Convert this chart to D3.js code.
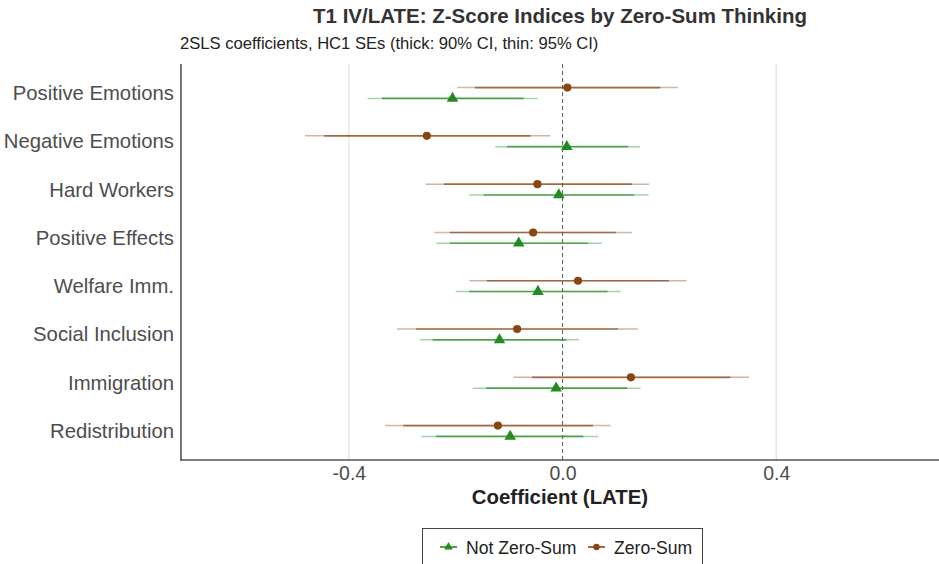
<!DOCTYPE html>
<html>
<head>
<meta charset="utf-8">
<script src="https://cdn.jsdelivr.net/npm/d3@7"></script>
<style>
  html, body { margin: 0; padding: 0; background: #fff; }
  svg { display: block; font-family: "Liberation Sans", Arial, Helvetica, sans-serif; }
</style>
</head>
<body>
<svg id="chart" width="939" height="564"></svg>
<script>
// Outcome indices, top to bottom
const categories = ["Positive Emotions", "Negative Emotions", "Hard Workers", "Positive Effects",
                    "Welfare Imm.", "Social Inclusion", "Immigration", "Redistribution"];

// Zero-Sum group: point estimates and confidence bounds
const zsEst  = [0.009, -0.254, -0.047, -0.055, 0.029, -0.085, 0.128, -0.121];
const zsLo95 = [-0.197, -0.482, -0.256, -0.240, -0.174, -0.310, -0.092, -0.332];
const zsHi95 = [0.216, -0.023, 0.162, 0.130, 0.232, 0.141, 0.349, 0.090];
const zsLo90 = [-0.164, -0.446, -0.222, -0.211, -0.142, -0.274, -0.057, -0.298];
const zsHi90 = [0.183, -0.060, 0.130, 0.100, 0.199, 0.104, 0.314, 0.057];

// Not Zero-Sum group
const nzEst  = [-0.206, 0.008, -0.007, -0.082, -0.046, -0.118, -0.012, -0.098];
const nzLo95 = [-0.365, -0.126, -0.175, -0.236, -0.200, -0.267, -0.168, -0.264];
const nzHi95 = [-0.046, 0.145, 0.161, 0.073, 0.109, 0.031, 0.146, 0.067];
const nzLo90 = [-0.338, -0.104, -0.148, -0.211, -0.175, -0.243, -0.143, -0.237];
const nzHi90 = [-0.073, 0.123, 0.134, 0.048, 0.084, 0.007, 0.121, 0.039];

const xTicks = [-0.4, 0, 0.4];
const seriesNames = ["Not Zero-Sum", "Zero-Sum"];

const colors = { "Zero-Sum": "#8B4513", "Not Zero-Sum": "#228B22" };

const series = [
  { name: "Zero-Sum", est: zsEst, lo95: zsLo95, hi95: zsHi95, lo90: zsLo90, hi90: zsHi90, dy: -5.4, shape: d3.symbolCircle },
  { name: "Not Zero-Sum", est: nzEst, lo95: nzLo95, hi95: nzHi95, lo90: nzLo90, hi90: nzHi90, dy: 5.4, shape: d3.symbolTriangle }
];

const FONT = "Liberation Sans, Arial, Helvetica, sans-serif";
const svg = d3.select("#chart");
const panel = { left: 181, right: 939, top: 64, bottom: 460 };

const x = d3.scaleLinear().domain([-0.7142, 0.7047]).range([panel.left, panel.right]);
const step = (panel.bottom - panel.top) / (categories.length - 1 + 1.2);
const y = d3.scalePoint().domain(categories)
  .range([panel.top + 0.6 * step, panel.bottom - 0.6 * step]);

// Vertical grid lines
svg.append("g").selectAll("line").data(xTicks.filter(t => t !== 0)).join("line")
  .attr("x1", d => x(d)).attr("x2", d => x(d))
  .attr("y1", panel.top).attr("y2", panel.bottom)
  .attr("stroke", "#dedede").attr("stroke-width", 1.1);

// Reference line at zero
svg.append("line")
  .attr("x1", x(0)).attr("x2", x(0))
  .attr("y1", panel.top).attr("y2", panel.bottom)
  .attr("stroke", "#666").attr("stroke-width", 1.1)
  .attr("stroke-dasharray", "4,3");

// Interval bars and point estimates
series.forEach(s => {
  const g = svg.append("g");
  const col = colors[s.name];
  const idx = d3.range(categories.length);
  g.selectAll("line.ci95").data(idx).join("line")
    .attr("class", "ci95")
    .attr("x1", i => x(s.lo95[i])).attr("x2", i => x(s.hi95[i]))
    .attr("y1", i => y(categories[i]) + s.dy).attr("y2", i => y(categories[i]) + s.dy)
    .attr("stroke", col).attr("stroke-opacity", 0.4).attr("stroke-width", 1.5);
  g.selectAll("line.ci90").data(idx).join("line")
    .attr("class", "ci90")
    .attr("x1", i => x(s.lo90[i])).attr("x2", i => x(s.hi90[i]))
    .attr("y1", i => y(categories[i]) + s.dy).attr("y2", i => y(categories[i]) + s.dy)
    .attr("stroke", col).attr("stroke-opacity", 0.68).attr("stroke-width", 1.6);
  g.selectAll("path").data(idx).join("path")
    .attr("transform", i => `translate(${x(s.est[i])},${y(categories[i]) + s.dy})`)
    .attr("d", d3.symbol().type(s.shape).size(s.shape === d3.symbolCircle ? 52 : 58))
    .attr("fill", col);
});

// Axis lines
svg.append("line")
  .attr("x1", panel.left).attr("x2", panel.left)
  .attr("y1", panel.top).attr("y2", panel.bottom + 0.8)
  .attr("stroke", "#555").attr("stroke-width", 1.6);
svg.append("line")
  .attr("x1", panel.left - 0.8).attr("x2", panel.right)
  .attr("y1", panel.bottom).attr("y2", panel.bottom)
  .attr("stroke", "#555").attr("stroke-width", 1.6);

// Category labels
const yAxis = d3.axisLeft(y).tickSize(0).tickPadding(7);
const yg = svg.append("g").attr("transform", `translate(${panel.left},0)`).call(yAxis);
yg.select(".domain").remove();
yg.selectAll("text").attr("fill", "#4d4d4d").attr("font-size", 20.3)
  .attr("font-family", FONT);

// Coefficient tick labels
const xAxis = d3.axisBottom(x).tickValues(xTicks).tickFormat(d3.format(".1f")).tickSize(0).tickPadding(6);
const xg = svg.append("g").attr("transform", `translate(0,${panel.bottom})`).call(xAxis);
xg.select(".domain").remove();
xg.selectAll("text").attr("fill", "#4d4d4d").attr("font-size", 19.5)
  .attr("font-family", FONT)
  .text(d => d === 0 ? "0.0" : d3.format(".1f")(d).replace("−", "-"));

const midX = (panel.left + panel.right) / 2;

// Axis title
svg.append("text")
  .attr("x", midX).attr("y", 504)
  .attr("text-anchor", "middle").attr("font-size", 20.4).attr("font-weight", "bold")
  .attr("fill", "#222").text("Coefficient (LATE)");

// Title and subtitle
svg.append("text")
  .attr("x", midX).attr("y", 23)
  .attr("text-anchor", "middle").attr("font-size", 20.5).attr("font-weight", "bold")
  .attr("fill", "#333").text("T1 IV/LATE: Z-Score Indices by Zero-Sum Thinking");
svg.append("text")
  .attr("x", panel.left - 1).attr("y", 49)
  .attr("font-size", 16.6).attr("fill", "#222")
  .text("2SLS coefficients, HC1 SEs (thick: 90% CI, thin: 95% CI)");

// Legend
const legend = svg.append("g");
legend.append("rect")
  .attr("x", 422.5).attr("y", 528.5).attr("width", 280).attr("height", 50)
  .attr("fill", "#fff").attr("stroke", "#444").attr("stroke-width", 1);
const legendX = { "Not Zero-Sum": 440, "Zero-Sum": 588 };
seriesNames.forEach(name => {
  const lx = legendX[name];
  const ly = 547;
  const col = colors[name];
  legend.append("line")
    .attr("x1", lx).attr("x2", lx + 17).attr("y1", ly).attr("y2", ly)
    .attr("stroke", col).attr("stroke-width", 1.6);
  legend.append("path")
    .attr("transform", `translate(${lx + 8.5},${ly})`)
    .attr("d", d3.symbol().type(name === "Zero-Sum" ? d3.symbolCircle : d3.symbolTriangle).size(32))
    .attr("fill", col);
  legend.append("text")
    .attr("x", lx + 26).attr("y", ly + 6.5)
    .attr("font-size", 17.6).attr("fill", "#222").text(name);
});
</script>
</body>
</html>
